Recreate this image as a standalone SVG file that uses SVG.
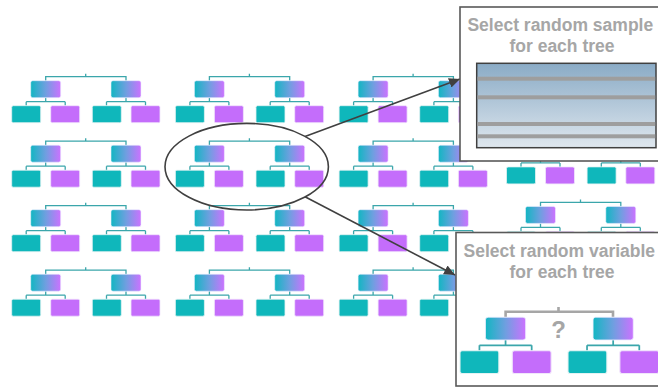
<svg xmlns="http://www.w3.org/2000/svg" xmlns:xlink="http://www.w3.org/1999/xlink" width="658" height="391" viewBox="0 0 658 391">
<style>
.conn{fill:none;stroke:#3ba6ab;stroke-width:1.3}
.leafT{fill:#0fb7bb;stroke:#e3f3f3;stroke-width:0.8}
.leafP{fill:#c46dfb;stroke:#f1e6fb;stroke-width:0.8}
.grad{fill:url(#g1);stroke:#eef;stroke-width:0.6}
.box{fill:#ffffff;stroke:#595959;stroke-width:1.6}
.title{font-family:"Liberation Sans",Arial,sans-serif;font-weight:bold;font-size:17.5px;fill:#a6a6a6;text-anchor:middle}
.arrow{fill:none;stroke:#404040;stroke-width:1.6}
</style>
<defs>
<linearGradient id="g1" x1="0" y1="0" x2="1" y2="0">
<stop offset="0" stop-color="#12b6c2"/>
<stop offset="0.5" stop-color="#6f9fe0"/>
<stop offset="1" stop-color="#cb72ff"/>
</linearGradient>
<linearGradient id="g2" x1="0" y1="0" x2="0" y2="1">
<stop offset="0" stop-color="#8aabc6"/>
<stop offset="1" stop-color="#dfe7ee"/>
</linearGradient>
<marker id="ah" markerUnits="userSpaceOnUse" markerWidth="12" markerHeight="10" refX="11" refY="5" orient="auto">
<path d="M0,0 L11,5 L0,10 z" fill="#404040"/>
</marker>
<g id="branch">
<path class="conn" d="M34,-8V-4M14.5,-4H53.5M14.5,-4V0M53.5,-4V0M114.3,-8V-4M94.8,-4H133.8M94.8,-4V0M133.8,-4V0"/>
<rect class="grad" x="19" y="-25" width="30" height="17" rx="2"/>
<rect class="grad" x="99.3" y="-25" width="30" height="17" rx="2"/>
<rect class="leafT" x="0" y="0" width="29" height="17" rx="1.5"/>
<rect class="leafP" x="39" y="0" width="29" height="17" rx="1.5"/>
<rect class="leafT" x="80.6" y="0" width="29" height="17" rx="1.5"/>
<rect class="leafP" x="119.3" y="0" width="29" height="17" rx="1.5"/>
</g>
<g id="tree">
<path class="conn" d="M34,-25V-29H114.3V-25M74,-29V-32"/>
<use xlink:href="#branch" href="#branch"/>
</g>
</defs>
<rect width="658" height="391" fill="#ffffff"/>
<g id="trees">
<g id="tree-r1c1" transform="translate(11.7,105.7)"><use href="#tree" xlink:href="#tree"/></g>
<g id="tree-r1c2" transform="translate(175.4,105.7)"><use href="#tree" xlink:href="#tree"/></g>
<g id="tree-r1c3" transform="translate(339.1,105.7)"><use href="#tree" xlink:href="#tree"/></g>
<g id="tree-r1c4" transform="translate(506.5,102.4)"><use href="#tree" xlink:href="#tree"/></g>
<g id="tree-r2c1" transform="translate(11.7,170.2)"><use href="#tree" xlink:href="#tree"/></g>
<g id="tree-r2c2" transform="translate(175.4,170.2)"><use href="#tree" xlink:href="#tree"/></g>
<g id="tree-r2c3" transform="translate(339.1,170.2)"><use href="#tree" xlink:href="#tree"/></g>
<g id="tree-r2c4" transform="translate(506.5,166.9)"><use href="#tree" xlink:href="#tree"/></g>
<g id="tree-r3c1" transform="translate(11.7,234.7)"><use href="#tree" xlink:href="#tree"/></g>
<g id="tree-r3c2" transform="translate(175.4,234.7)"><use href="#tree" xlink:href="#tree"/></g>
<g id="tree-r3c3" transform="translate(339.1,234.7)"><use href="#tree" xlink:href="#tree"/></g>
<g id="tree-r3c4" transform="translate(506.5,231.4)"><use href="#tree" xlink:href="#tree"/></g>
<g id="tree-r4c1" transform="translate(11.7,299.2)"><use href="#tree" xlink:href="#tree"/></g>
<g id="tree-r4c2" transform="translate(175.4,299.2)"><use href="#tree" xlink:href="#tree"/></g>
<g id="tree-r4c3" transform="translate(339.1,299.2)"><use href="#tree" xlink:href="#tree"/></g>
<g id="tree-r4c4" transform="translate(506.5,295.9)"><use href="#tree" xlink:href="#tree"/></g>
</g>
<g id="highlight">
<ellipse cx="246.7" cy="166.7" rx="81.7" ry="43.3" fill="none" stroke="#404040" stroke-width="1.6"/>
</g>
<g id="connectors">
<line class="arrow" x1="305" y1="136.4" x2="460" y2="79" marker-end="url(#ah)"/>
<line class="arrow" x1="305" y1="196.8" x2="455" y2="275" marker-end="url(#ah)"/>
</g>
<g id="callout-sample">
<rect class="box" x="460" y="7" width="210" height="154"/>
<text class="title" x="560.3" y="30.7">Select random sample</text>
<text class="title" x="562" y="51.7">for each tree</text>
<rect x="476.7" y="63.3" width="179.3" height="84.4" fill="url(#g2)" stroke="#404040" stroke-width="1.5"/>
<g fill="#9e9e9e">
<rect x="477.5" y="76.7" width="177.7" height="4"/>
<rect x="477.5" y="95.3" width="177.7" height="4"/>
<rect x="477.5" y="122" width="177.7" height="4"/>
<rect x="477.5" y="134.3" width="177.7" height="4"/>
</g>
</g>
<g id="callout-variable">
<rect class="box" x="456" y="232.5" width="214" height="153.5"/>
<text class="title" x="559.3" y="257.3">Select random variable</text>
<text class="title" x="562" y="278.3">for each tree</text>
<path d="M505.6,317V311.8H613V317M558.5,311.8V307" fill="none" stroke="#a6a6a6" stroke-width="2.6"/>
<g transform="translate(460,350.7) scale(1.34)"><use href="#branch" xlink:href="#branch"/></g>
<text x="558.5" y="337.5" font-family="Liberation Sans, Arial, sans-serif" font-weight="bold" font-size="24" fill="#a6a6a6" text-anchor="middle">?</text>
</g>
</svg>
